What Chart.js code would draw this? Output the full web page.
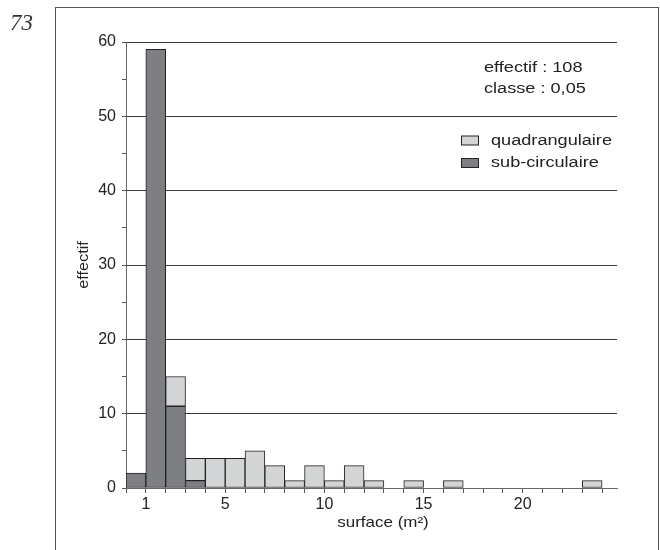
<!DOCTYPE html>
<html><head><meta charset="utf-8">
<script src="https://cdn.jsdelivr.net/npm/chart.js@4/dist/chart.umd.min.js"></script>
<style>html,body{margin:0;padding:0;background:#fff}#wrap{width:660px;height:550px;position:relative}</style>
</head><body><div id="wrap"><canvas id="c" width="660" height="550"></canvas></div>
<script>
// bin starts (class lower bounds) on the surface axis
const binStarts = [0,1,2,3,4,5,6,7,8,9,10,11,12,13,14,15,16,17,18,19,20,21,22,23];
const quadrangulaire = [0,0,4,3,4,4,5,3,1,3,1,3,1,0,1,0,1,0,0,0,0,0,0,1];
const subCirculaire  = [2,59,11,1,0,0,0,0,0,0,0,0,0,0,0,0,0,0,0,0,0,0,0,0];
const xTickLabels = [1,5,10,15,20];
const yTickLabels = [0,10,20,30,40,50,60];
const seriesNames = ['quadrangulaire','sub-circulaire'];
const noteLines = ['effectif : ', 'classe : 0,05'];

const QUAD_COL = '#d3d4d6', SUB_COL = '#7e7f83', EDGE = '#222';
const total = quadrangulaire.concat(subCirculaire).reduce((a,b)=>a+b,0);

function pts(arr){ return binStarts.map((s,i)=>arr[i] ? {x:s+0.5, y:arr[i]} : null).filter(p=>p); }

const SX = 1.17; // horizontal text stretch of the reference
function sText(ctx, txt, x, y, align){
  ctx.save(); ctx.translate(x,y); ctx.scale(SX,1);
  ctx.textAlign = align || 'left'; ctx.fillText(txt,0,0); ctx.restore();
}

const deco = {
  id:'deco',
  beforeDraw(chart){
    const ctx = chart.ctx;
    ctx.save();
    ctx.strokeStyle = '#555'; ctx.lineWidth = 1;
    ctx.strokeRect(55.5, 7.5, 603, 600);
    ctx.fillStyle = '#333';
    ctx.font = 'italic 23px "Liberation Serif"';
    ctx.textBaseline = 'alphabetic';
    ctx.fillText('73', 10, 30);
    ctx.restore();
  },
  afterDraw(chart){
    const ctx = chart.ctx;
    ctx.save();
    ctx.fillStyle = '#222';
    ctx.font = '15.5px "Liberation Sans"';
    ctx.textBaseline = 'middle';
    sText(ctx, noteLines[0] + total, 484, 68);
    sText(ctx, noteLines[1], 484, 89);
    // legend
    const cols = [QUAD_COL, SUB_COL];
    const ys = [140.5, 163];
    for (let i=0;i<2;i++){
      ctx.fillStyle = cols[i];
      ctx.fillRect(461, ys[i]-4.5, 18, 9);
      ctx.strokeStyle = EDGE; ctx.lineWidth = 1;
      ctx.strokeRect(461.5, ys[i]-4.5, 17, 9);
      ctx.fillStyle = '#222';
      sText(ctx, seriesNames[i], 491, ys[i]);
    }
    // axis titles
    ctx.font = '14.5px "Liberation Sans"';
    sText(ctx, 'surface (m²)', 383, 523, 'center');
    ctx.save();
    ctx.translate(84, 265); ctx.rotate(-Math.PI/2);
    ctx.scale(1.12,1);
    ctx.textAlign='center'; ctx.fillText('effectif', 0, 0);
    ctx.restore();
    ctx.restore();
  }
};

new Chart(document.getElementById('c'), {
  type:'bar',
  data:{
    datasets:[
      {label:seriesNames[1], data:pts(subCirculaire), backgroundColor:SUB_COL, borderColor:EDGE, borderWidth:1, borderSkipped:false, barPercentage:1, categoryPercentage:1},
      {label:seriesNames[0], data:pts(quadrangulaire), backgroundColor:QUAD_COL, borderColor:EDGE, borderWidth:1, borderSkipped:false, barPercentage:1, categoryPercentage:1}
    ]
  },
  options:{
    responsive:false, animation:false,
    layout:{padding:{left:0, top:42, right:43, bottom:0}},
    plugins:{legend:{display:false}, tooltip:{enabled:false}},
    scales:{
      x:{
        type:'linear', stacked:true, min:0, max:24.75, offset:false,
        afterBuildTicks(s){ s.ticks = binStarts.concat([24]).map(v=>({value:v})); },
        afterFit(s){ s.height = 62; },
        ticks:{autoSkip:false, maxRotation:0, padding:2, color:'#222',
          font:{family:'"Liberation Sans"', size:16},
          callback:v=> xTickLabels.includes(v) ? String(v) : ''},
        grid:{offset:false, drawOnChartArea:false, drawTicks:true, tickLength:5, tickColor:'#555'},
        border:{display:true, color:'#666', width:1}
      },
      y:{
        stacked:true, min:0, max:60,
        afterBuildTicks(s){ const t=[]; for(let v=0; v<=60; v+=5) t.push({value:v}); s.ticks=t; },
        afterFit(s){ s.width = 126; },
        ticks:{padding:6, color:'#222', font:{family:'"Liberation Sans"', size:16},
          callback:v=> yTickLabels.includes(v) ? String(v) : ''},
        grid:{color:c=> (c.tick && c.tick.value%10===0 && c.tick.value>0) ? '#3a3a3a' : 'rgba(0,0,0,0)',
          tickColor:'#555', tickLength:4, lineWidth:1},
        border:{display:true, color:'#666', width:1}
      }
    }
  },
  plugins:[deco]
});
</script></body></html>
